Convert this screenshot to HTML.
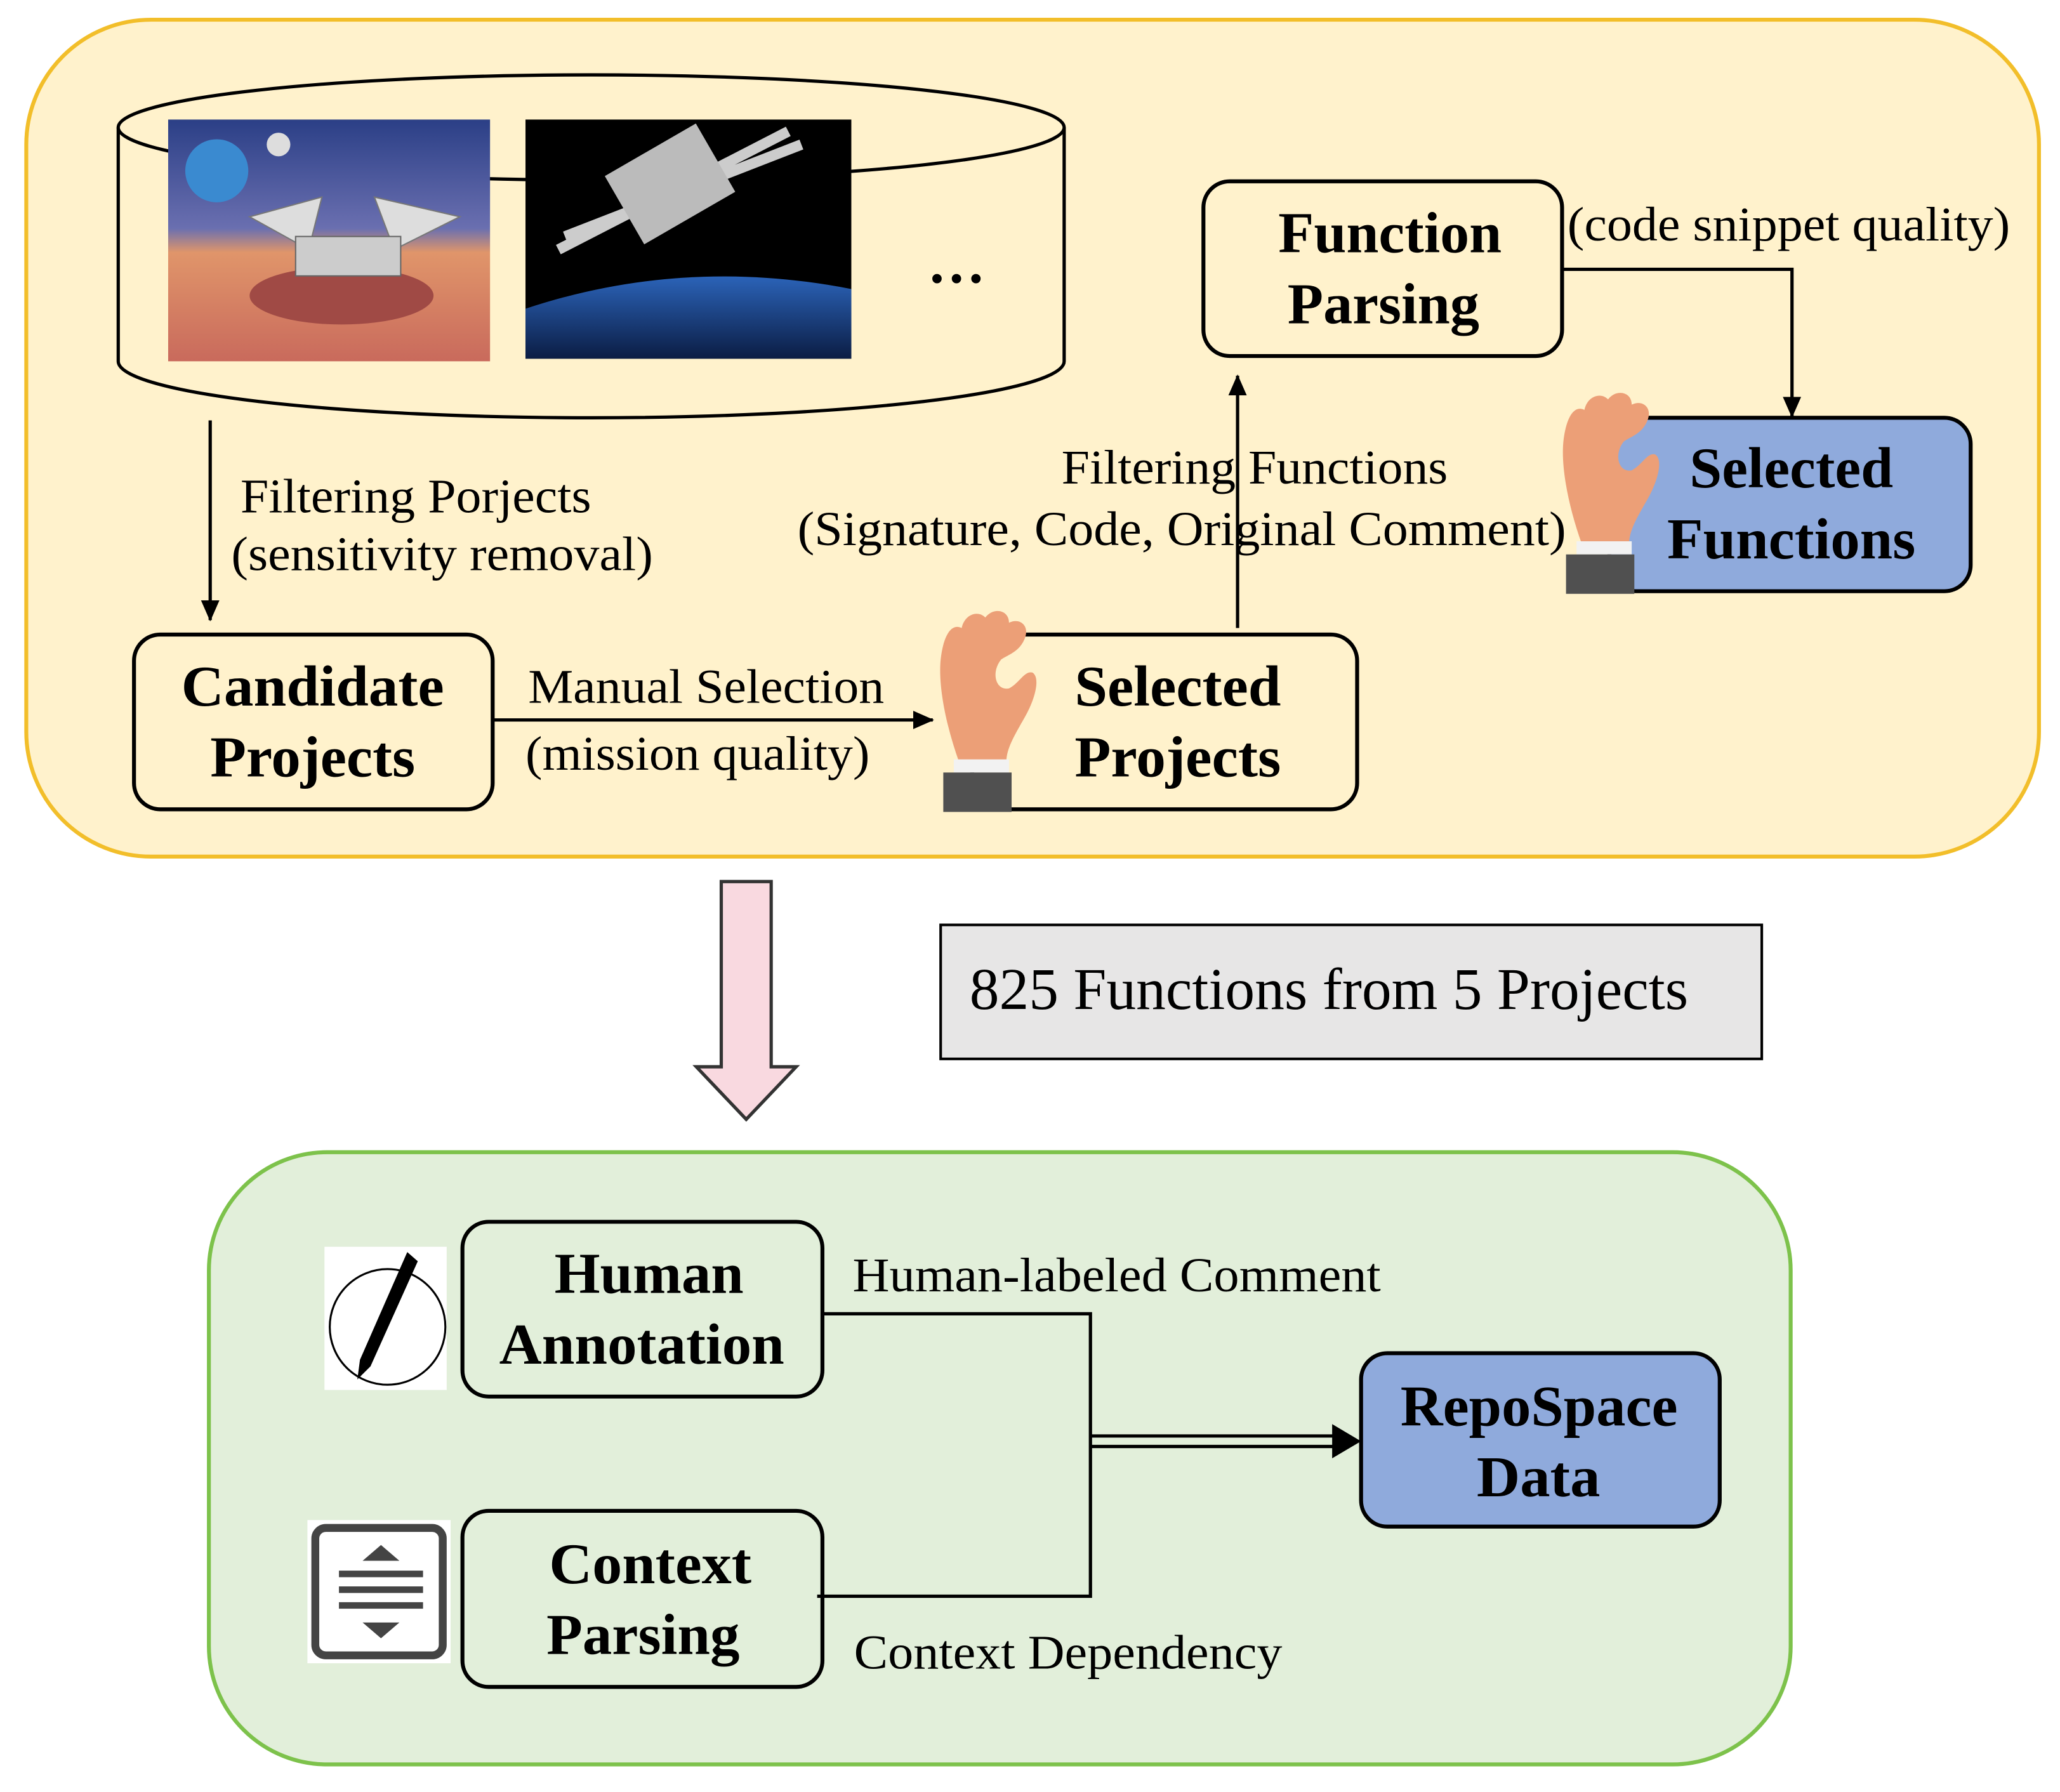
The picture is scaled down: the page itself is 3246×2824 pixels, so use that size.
<!DOCTYPE html>
<html><head><meta charset="utf-8"><style>
html,body{margin:0;padding:0;background:#fff}
svg{display:block}
text{font-family:"Liberation Serif",serif;fill:#000}
.b{font-weight:bold;font-size:44px}
.n{font-size:37px}
</style></head><body>
<svg width="3246" height="2824" viewBox="0 0 1568 1364" preserveAspectRatio="none">
<defs>
<marker id="ar" markerWidth="16" markerHeight="16" refX="15" refY="8" orient="auto" markerUnits="userSpaceOnUse" viewBox="0 0 16 16"><path d="M0,1L16,8L0,15z" fill="#000"/></marker>
<g id="hand">
<path d="M20,118 C10,90 4,60 6,40 C8,22 14,12 22,16 C24,6 34,2 40,8 C46,0 58,2 58,12 C66,8 74,14 70,24 C66,34 58,36 52,40 C44,50 48,64 58,62 C66,58 70,48 76,50 C82,54 78,70 70,84 C62,98 56,108 56,118 Z" fill="#EC9F77"/>
<rect x="16" y="116" width="42" height="10" fill="#f2f2f2"/>
<rect x="8" y="126" width="52" height="30" fill="#505050"/>
</g>
</defs>
<rect x="20" y="15" width="1532" height="637" rx="95" fill="#FFF2CC" stroke="#F2BE2A" stroke-width="3"/>
<path d="M90,97 L90,275 A360,43 0 0 0 810,275 L810,97" fill="#FFF2CC" stroke="#000" stroke-width="2.5"/>
<ellipse cx="450" cy="97" rx="360" ry="40" fill="#FFF2CC" stroke="#000" stroke-width="2.5"/>
<defs><linearGradient id="mars" x1="0" y1="0" x2="0" y2="1"><stop offset="0" stop-color="#2b3f86"/><stop offset="0.45" stop-color="#6a6fb0"/><stop offset="0.55" stop-color="#e0956a"/><stop offset="1" stop-color="#c96a5c"/></linearGradient>
<linearGradient id="earth" x1="0" y1="0" x2="0" y2="1"><stop offset="0" stop-color="#2b63b8"/><stop offset="1" stop-color="#0b1d44"/></linearGradient></defs>
<rect x="128" y="91" width="245" height="184" fill="url(#mars)"/>
<circle cx="165" cy="130" r="24" fill="#3a8ad0"/><circle cx="212" cy="110" r="9" fill="#ddd"/>
<ellipse cx="260" cy="225" rx="70" ry="22" fill="#a04a45"/>
<path d="M190,165 L245,150 L235,190 Z M285,150 L350,165 L300,190 Z" fill="#ddd" stroke="#777"/>
<rect x="225" y="180" width="80" height="30" fill="#ccc" stroke="#666"/>
<rect x="400" y="91" width="248" height="182" fill="#000"/>
<path d="M400,273 L400,235 Q520,195 648,220 L648,273 Z" fill="url(#earth)"/>
<path d="M425,190 L600,100 M430,180 L610,110" stroke="#ccc" stroke-width="8"/>
<rect x="470" y="110" width="80" height="60" fill="#bbb" transform="rotate(-30 510 140)"/>
<text x="728" y="215" class="b" text-anchor="middle" font-size="40">…</text>
<line x1="160" y1="320" x2="160" y2="472" stroke="#000" stroke-width="2.5" marker-end="url(#ar)"/>
<text x="183" y="390" class="n" textLength="267" lengthAdjust="spacingAndGlyphs">Filtering Porjects</text>
<text x="176" y="434" class="n" textLength="321" lengthAdjust="spacingAndGlyphs">(sensitivity removal)</text>
<rect x="102" y="483" width="273" height="133" rx="20" fill="#FFF2CC" stroke="#000" stroke-width="3"/>
<text x="138" y="537" class="b" textLength="200" lengthAdjust="spacingAndGlyphs">Candidate</text>
<text x="160" y="591" class="b" textLength="156" lengthAdjust="spacingAndGlyphs">Projects</text>
<line x1="375" y1="548" x2="710" y2="548" stroke="#000" stroke-width="2.5" marker-end="url(#ar)"/>
<text x="402" y="535" class="n" textLength="271" lengthAdjust="spacingAndGlyphs">Manual Selection</text>
<text x="400" y="586" class="n" textLength="262" lengthAdjust="spacingAndGlyphs">(mission quality)</text>
<rect x="740" y="483" width="293" height="133" rx="20" fill="#FFF2CC" stroke="#000" stroke-width="3"/>
<use href="#hand" x="710" y="462"/>
<text x="818" y="537" class="b" textLength="157" lengthAdjust="spacingAndGlyphs">Selected</text>
<text x="818" y="591" class="b" textLength="157" lengthAdjust="spacingAndGlyphs">Projects</text>
<line x1="942" y1="478" x2="942" y2="286" stroke="#000" stroke-width="2.5" marker-end="url(#ar)"/>
<text x="808" y="368" class="n" textLength="294" lengthAdjust="spacingAndGlyphs">Filtering Functions</text>
<text x="607" y="415" class="n" textLength="585" lengthAdjust="spacingAndGlyphs">(Signature, Code, Original Comment)</text>
<rect x="916" y="138" width="273" height="133" rx="20" fill="#FFF2CC" stroke="#000" stroke-width="3"/>
<text x="973" y="192" class="b" textLength="170" lengthAdjust="spacingAndGlyphs">Function</text>
<text x="980" y="246" class="b" textLength="146" lengthAdjust="spacingAndGlyphs">Parsing</text>
<text x="1193" y="183" class="n" textLength="337" lengthAdjust="spacingAndGlyphs">(code snippet quality)</text>
<polyline points="1189,205 1364,205 1364,317" fill="none" stroke="#000" stroke-width="2.5" marker-end="url(#ar)"/>
<rect x="1225" y="318" width="275" height="132" rx="20" fill="#8FAADC" stroke="#000" stroke-width="3"/>
<use href="#hand" x="1184" y="296"/>
<text x="1286" y="371" class="b" textLength="155" lengthAdjust="spacingAndGlyphs">Selected</text>
<text x="1269" y="425" class="b" textLength="189" lengthAdjust="spacingAndGlyphs">Functions</text>
<path d="M549,671 L587,671 L587,812 L606,812 L568,852 L530,812 L549,812 Z" fill="#F9D9E0" stroke="#333" stroke-width="2.5"/>
<rect x="716" y="704" width="625" height="102" fill="#E7E6E6" stroke="#000" stroke-width="2"/>
<text x="738" y="768" font-size="45" textLength="547" lengthAdjust="spacingAndGlyphs">825 Functions from 5 Projects</text>
<rect x="159" y="877" width="1204" height="466" rx="90" fill="#E2EFDA" stroke="#7DC24B" stroke-width="3"/>
<rect x="247" y="949" width="93" height="109" fill="#fff"/>
<circle cx="295" cy="1010" r="44" fill="none" stroke="#000" stroke-width="1.5"/>
<path d="M310,953 L318,960 L282,1040 L272,1050 L274,1035 Z" fill="#000"/>
<rect x="352" y="930" width="274" height="133" rx="20" fill="#E2EFDA" stroke="#000" stroke-width="3"/>
<text x="422" y="984" class="b" textLength="144" lengthAdjust="spacingAndGlyphs">Human</text>
<text x="380" y="1038" class="b" textLength="217" lengthAdjust="spacingAndGlyphs">Annotation</text>
<rect x="234" y="1157" width="109" height="109" fill="#fff"/>
<rect x="240" y="1163" width="97" height="97" rx="8" fill="none" stroke="#444" stroke-width="6"/>
<path d="M276,1188 L290,1176 L304,1188 Z M276,1235 L290,1247 L304,1235 Z" fill="#444"/>
<path d="M258,1198 H322 M258,1210 H322 M258,1222 H322" stroke="#444" stroke-width="5"/>
<rect x="352" y="1150" width="274" height="134" rx="20" fill="#E2EFDA" stroke="#000" stroke-width="3"/>
<text x="418" y="1205" class="b" textLength="154" lengthAdjust="spacingAndGlyphs">Context</text>
<text x="416" y="1259" class="b" textLength="147" lengthAdjust="spacingAndGlyphs">Parsing</text>
<polyline points="626,1000 830,1000 830,1215 622,1215" fill="none" stroke="#000" stroke-width="2.5"/>
<line x1="830" y1="1093" x2="1018" y2="1093" stroke="#000" stroke-width="2.5"/>
<line x1="830" y1="1101" x2="1018" y2="1101" stroke="#000" stroke-width="2.5"/>
<path d="M1014,1084 L1036,1097 L1014,1110 Z" fill="#000"/>
<text x="649" y="983" class="n" textLength="402" lengthAdjust="spacingAndGlyphs">Human-labeled Comment</text>
<text x="650" y="1270" class="n" textLength="326" lengthAdjust="spacingAndGlyphs">Context Dependency</text>
<rect x="1036" y="1030" width="273" height="132" rx="20" fill="#8FAADC" stroke="#000" stroke-width="3"/>
<text x="1066" y="1085" class="b" textLength="211" lengthAdjust="spacingAndGlyphs">RepoSpace</text>
<text x="1124" y="1139" class="b" textLength="94" lengthAdjust="spacingAndGlyphs">Data</text>
</svg>
</body></html>
